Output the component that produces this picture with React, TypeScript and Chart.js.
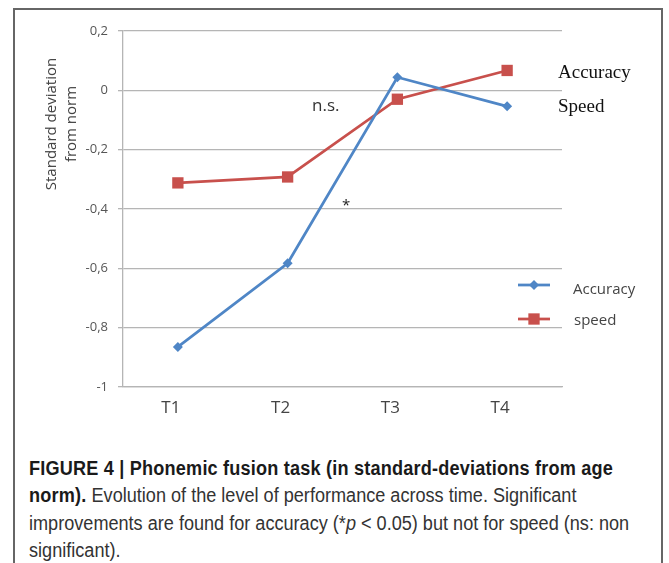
import React, { useEffect, useRef } from "react";
import { Chart, registerables } from "chart.js";

Chart.register(...registerables);

const timePoints = ["T1", "T2", "T3", "T4"];
const accuracyValues = [-0.865, -0.583, 0.044, -0.054];
const speedValues = [-0.312, -0.292, -0.03, 0.067];
const yMin = -1;
const yMax = 0.2;
const yStep = 0.2;

const BLUE = "#4F86C6";
const RED = "#C8504C";
const GRID = "#b5b5b5";
const FONT = "'Open Sans', 'Noto Sans', sans-serif";

const legendMarkers = {
  id: "legendMarkers",
  afterDraw(chart: any) {
    const ctx = chart.ctx;
    const items = [
      { y: 285, color: BLUE, style: "rectRot", r: 5 },
      { y: 319, color: RED, style: "rect", r: 8 },
    ];
    ctx.save();
    for (const it of items) {
      ctx.strokeStyle = it.color;
      ctx.lineWidth = 2.75;
      ctx.beginPath();
      ctx.moveTo(518, it.y);
      ctx.lineTo(550, it.y);
      ctx.stroke();
      ctx.fillStyle = it.color;
      ctx.beginPath();
      if (it.style === "rect") {
        const s = it.r * Math.SQRT1_2;
        ctx.rect(534 - s, it.y - s, 2 * s, 2 * s);
      } else {
        ctx.moveTo(534 - it.r, it.y);
        ctx.lineTo(534, it.y - it.r);
        ctx.lineTo(534 + it.r, it.y);
        ctx.lineTo(534, it.y + it.r);
        ctx.closePath();
      }
      ctx.fill();
    }
    ctx.restore();
  },
};

export default function App() {
  const ref = useRef<HTMLCanvasElement | null>(null);

  useEffect(() => {
    if (!ref.current) return;
    const chart = new Chart(ref.current, {
      type: "line",
      data: {
        labels: timePoints,
        datasets: [
          {
            label: "Accuracy",
            data: accuracyValues,
            borderColor: BLUE,
            backgroundColor: BLUE,
            borderWidth: 2.75,
            pointStyle: "rectRot",
            pointRadius: 5,
            pointBorderWidth: 0,
            tension: 0,
          },
          {
            label: "speed",
            data: speedValues,
            borderColor: RED,
            backgroundColor: RED,
            borderWidth: 2.75,
            pointStyle: "rect",
            pointRadius: 8,
            pointBorderWidth: 0,
            tension: 0,
          },
        ],
      },
      options: {
        animation: false,
        responsive: false,
        devicePixelRatio: 1,
        layout: { padding: { left: 0, top: 31, right: 107, bottom: 0 } },
        plugins: {
          legend: { display: false },
          tooltip: { enabled: false },
        },
        scales: {
          x: {
            type: "category",
            offset: true,
            grid: { display: false, drawTicks: false },
            border: { display: true, color: GRID, width: 1.3 },
            ticks: {
              color: "#444",
              font: { family: FONT, size: 17 },
              padding: 11,
              labelOffset: -7,
            },
            afterFit: (s: any) => {
              s.height = 33;
            },
          },
          y: {
            min: yMin,
            max: yMax,
            grid: {
              color: GRID,
              lineWidth: 1.3,
              drawTicks: true,
              tickLength: 5,
            },
            border: { display: true, color: GRID, width: 1.3 },
            ticks: {
              stepSize: yStep,
              color: "#555",
              font: { family: FONT, size: 13 },
              padding: 10,
              callback: (v: any) => {
                const n = Math.round(Number(v) * 10) / 10;
                return String(n).replace(".", ",");
              },
            },
            afterFit: (s: any) => {
              s.width = 123;
            },
          },
        },
      },
      plugins: [legendMarkers],
    });
    return () => chart.destroy();
  }, []);

  const abs = (o: any) => ({ position: "absolute" as const, ...o });

  return (
    <div
      style={{
        position: "absolute",
        left: 0,
        top: 0,
        width: 669,
        height: 563,
        background: "#fff",
        overflow: "hidden",
      }}
    >
      <div
        style={abs({
          left: 13,
          top: 8,
          width: 650,
          height: 600,
          border: "2px solid #666",
          boxSizing: "border-box",
        })}
      />
      <canvas ref={ref} width={669} height={420} style={abs({ left: 0, top: 0 })} />
      <div
        style={abs({
          left: 60 - 80,
          top: 124 - 20,
          width: 160,
          height: 40,
          transform: "rotate(-90deg)",
          textAlign: "center",
          fontFamily: FONT,
          fontSize: 15,
          lineHeight: "20px",
          color: "#444",
        })}
      >
        Standard deviation
        <br />
        from norm
      </div>
      <div
        style={abs({
          left: 312,
          top: 95,
          fontFamily: FONT,
          fontSize: 17,
          lineHeight: "20px",
          color: "#333",
        })}
      >
        n.s.
      </div>
      <div
        style={abs({
          left: 342,
          top: 195,
          fontFamily: FONT,
          fontSize: 15,
          lineHeight: "18px",
          color: "#222",
        })}
      >
        *
      </div>
      <div
        style={abs({
          left: 573,
          top: 278,
          fontFamily: FONT,
          fontSize: 15,
          lineHeight: "20px",
          color: "#444",
        })}
      >
        Accuracy
      </div>
      <div
        style={abs({
          left: 574,
          top: 309,
          fontFamily: FONT,
          fontSize: 15,
          lineHeight: "20px",
          color: "#444",
        })}
      >
        speed
      </div>
      <div
        style={abs({
          left: 558,
          top: 61,
          fontFamily: "'Liberation Serif', 'DejaVu Serif', serif",
          fontSize: 19,
          lineHeight: "22px",
          color: "#111",
        })}
      >
        Accuracy
      </div>
      <div
        style={abs({
          left: 558,
          top: 95,
          fontFamily: "'Liberation Serif', 'DejaVu Serif', serif",
          fontSize: 19,
          lineHeight: "22px",
          color: "#111",
        })}
      >
        Speed
      </div>
      <div
        style={abs({
          left: 29,
          top: 454.5,
          fontFamily: "'Liberation Sans', Arial, sans-serif",
          fontSize: 20,
          lineHeight: "27.5px",
          color: "#333",
          whiteSpace: "nowrap",
          transform: "scaleX(0.905)",
          transformOrigin: "0 0",
        })}
      >
        <b style={{ color: "#1a1a1a", letterSpacing: "0.22px" }}>
          FIGURE 4 | Phonemic fusion task (in standard-deviations from age
        </b>
        <br />
        <b style={{ color: "#1a1a1a", letterSpacing: "0.22px" }}>norm).</b> Evolution of the level of performance across time. Significant
        <br />
        improvements are found for accuracy (*<i>p</i> &lt; 0.05) but not for speed (ns: non
        <br />
        significant).
      </div>
    </div>
  );
}
